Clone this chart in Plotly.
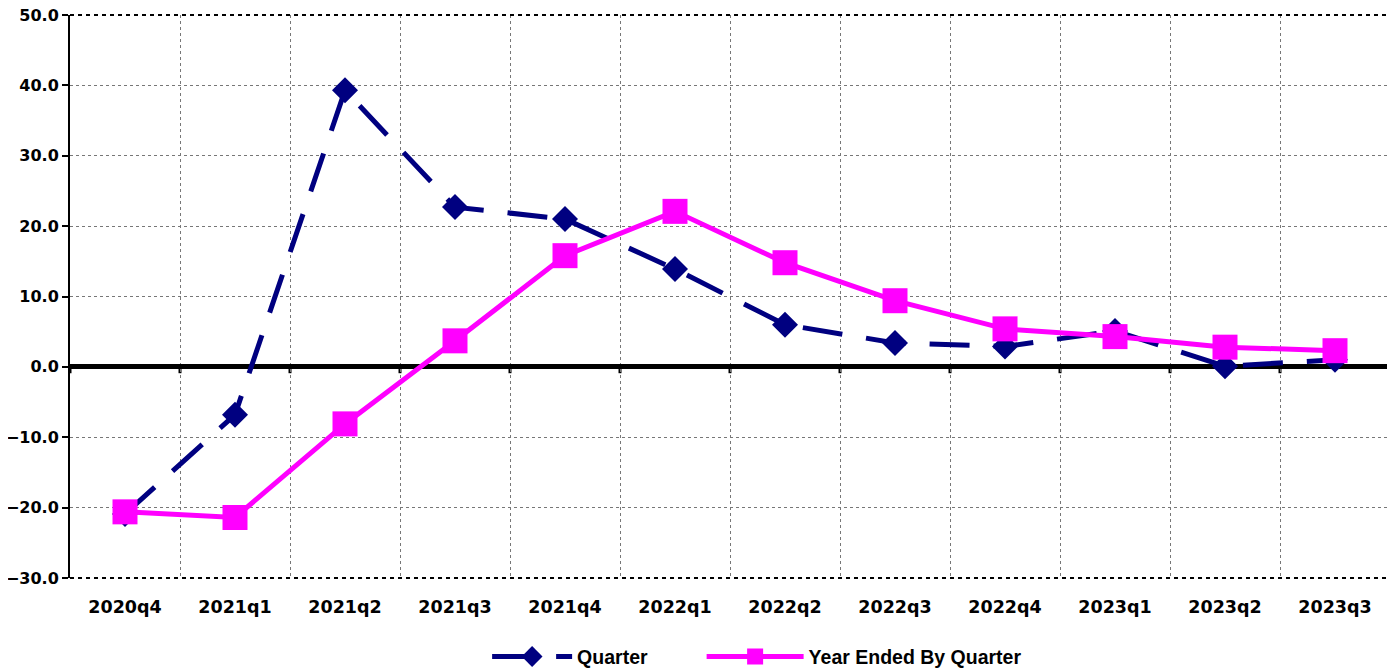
import plotly.graph_objects as go

categories = ["2020q4", "2021q1", "2021q2", "2021q3", "2021q4", "2022q1",
              "2022q2", "2022q3", "2022q4", "2023q1", "2023q2", "2023q3"]
quarter = [-20.9, -6.8, 39.3, 22.7, 21.0, 13.9, 6.0, 3.4, 2.9, 5.1, 0.1, 1.0]
year_ended = [-20.6, -21.4, -8.1, 3.7, 15.8, 22.1, 14.8, 9.4, 5.4, 4.3, 2.8, 2.3]
y_ticks = [-30, -20, -10, 0, 10, 20, 30, 40, 50]

fig = go.Figure()
fig.add_trace(go.Scatter(
    x=categories, y=quarter, name="Quarter", mode="lines+markers",
    line=dict(color="#000080", width=5, dash="40px,24px"),
    marker=dict(symbol="diamond", size=20, color="#000080"),
    legend="legend",
))
fig.add_trace(go.Scatter(
    x=categories, y=year_ended, name="Year Ended By Quarter", mode="lines+markers",
    line=dict(color="#FF00FF", width=5),
    marker=dict(symbol="square", size=25, color="#FF00FF"),
    legend="legend2",
))

n = len(categories)
# small tick marks under zero line at category boundaries
for i in range(n + 1):
    fig.add_shape(type="line", xref="x", yref="y", x0=i - 0.5, x1=i - 0.5,
                  y0=0, y1=-0.9, line=dict(color="black", width=3), layer="below")
# dashed frame top/right/bottom
fig.add_shape(type="line", xref="paper", yref="paper", x0=0, x1=1, y0=1, y1=1,
              line=dict(color="black", width=2, dash="4px,4px"))
fig.add_shape(type="line", xref="paper", yref="paper", x0=1, x1=1, y0=0, y1=1,
              line=dict(color="black", width=2, dash="4px,4px"))
fig.add_shape(type="line", xref="paper", yref="paper", x0=0, x1=1, y0=0, y1=0,
              line=dict(color="black", width=2, dash="4px,4px"))

legend_font = dict(family="Liberation Sans", size=19.5, color="black", weight="bold")

fig.update_layout(
    width=1387, height=661,
    margin=dict(l=62, r=5, t=7, b=91, autoexpand=False),
    plot_bgcolor="white", paper_bgcolor="white",
    font=dict(family="DejaVu Sans", size=16, color="black"),
    showlegend=True,
    legend=dict(orientation="h", x=0.316, xanchor="left", y=-0.14, yanchor="middle",
                font=legend_font, itemwidth=80),
    legend2=dict(orientation="h", x=0.4785, xanchor="left", y=-0.14, yanchor="middle",
                 font=legend_font, itemwidth=97),
    xaxis=dict(
        type="category", range=[-0.5, n - 0.5], tickson="boundaries",
        showgrid=True, gridcolor="#777777", griddash="dot", gridwidth=1,
        ticks="", showline=False, zeroline=False, automargin=False,
        ticklabelstandoff=16,
        tickfont=dict(family="DejaVu Sans", size=17.5, weight="bold"),
    ),
    yaxis=dict(
        range=[-30, 50], tickvals=y_ticks, tickformat=".1f",
        showgrid=True, gridcolor="#777777", griddash="dot", gridwidth=1,
        ticks="outside", ticklen=6, tickwidth=2, tickcolor="black",
        showline=True, linecolor="black", linewidth=2,
        zeroline=True, zerolinecolor="black", zerolinewidth=5,
        automargin=False, ticklabeloverflow="allow",
        tickfont=dict(family="DejaVu Sans", size=16, weight="bold"),
    ),
)

fig.write_html("out.html")
